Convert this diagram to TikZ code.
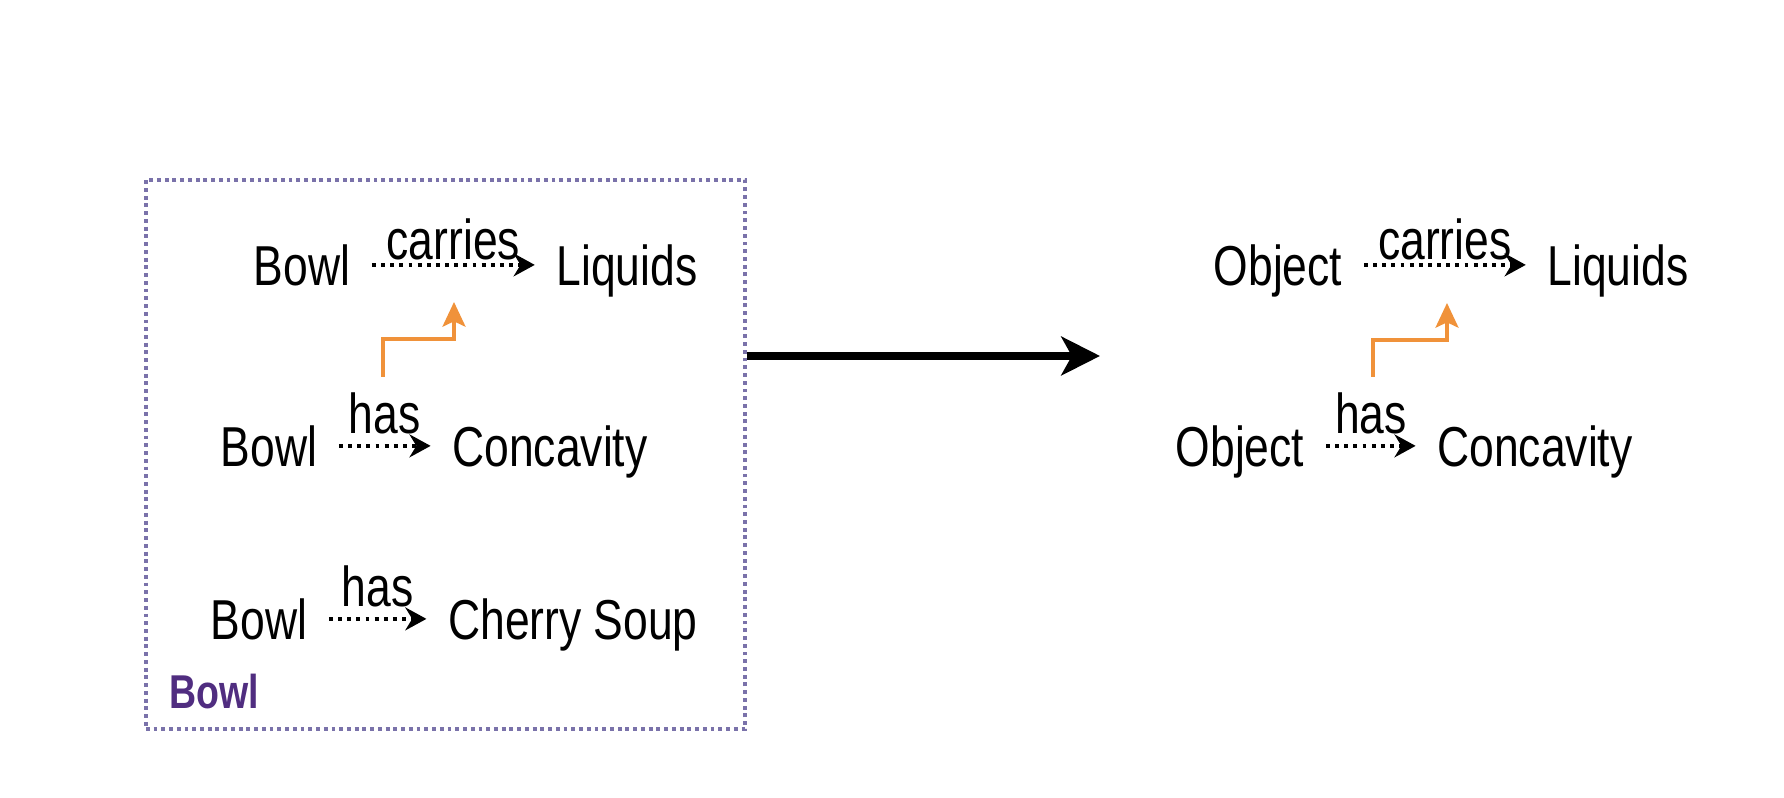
\documentclass[tikz,border=0pt]{standalone}
\usepackage{fontspec}
\setmainfont{Liberation Sans}[FakeStretch=0.79]
\usetikzlibrary{arrows.meta}
\definecolor{liftorange}{RGB}{240,146,58}
\definecolor{framepurple}{RGB}{122,114,170}
\definecolor{titlepurple}{RGB}{80,45,128}
\tikzstyle{concept}=[anchor=base,inner xsep=6pt,inner ysep=0pt,text height=12.5pt,text depth=0.5pt,font=\fontsize{16}{19}\selectfont]
\tikzstyle{relation}=[anchor=base,inner sep=0pt,font=\fontsize{16}{19}\selectfont]
\tikzstyle{relationedge}=[draw,line width=1.2pt,dash pattern=on 1.1pt off 1.5pt,-{Stealth[length=6pt,width=6.5pt]}]
\tikzstyle{liftedge}=[draw,liftorange,line width=1.1pt,-{Stealth[length=7pt,width=6.5pt,inset=1.5pt]}]
\tikzstyle{mapedge}=[draw,line width=2.2pt,-{Stealth[length=11pt,width=11pt,inset=3pt]}]
\tikzstyle{boxframe}=[draw=framepurple,line width=1.1pt,dash pattern=on 1.1pt off 1.1pt,minimum width=5.99cm,minimum height=5.49cm,inner sep=0pt]
\tikzstyle{boxtitle}=[anchor=base,inner sep=0pt,text=titlepurple,font=\fontsize{13.5}{16}\selectfont\bfseries]
\begin{document}
\begin{tikzpicture}[x=0.01cm,y=-0.01cm]
    \useasboundingbox (0,0) rectangle (1784,798);

    % the instance box on the left
    \node[boxframe] (bowlbox) at (445.5,454.5) {};
    \node[boxtitle] (bowltitle) at (214,709) {Bowl};

    \foreach \pos/ \name/ \text in {{(302,286)/b1/Bowl},{(627,286)/l1/Liquids},
        {(269,467)/b2/Bowl},{(550,467)/c2/Concavity},
        {(259,640)/b3/Bowl},{(573,640)/s3/Cherry Soup}}
        \node[concept] (\name) at \pos {\text};

    % generalised facts on the right
    \foreach \pos/ \name/ \text in {{(1278,286)/o1/Object},{(1618,286)/m1/Liquids},
        {(1240,467)/o2/Object},{(1535,467)/k2/Concavity}}
        \node[concept] (\name) at \pos {\text};

    % Connect concepts with relations
    \foreach \source/ \dest/\weight in {b1/l1/{carries}, o1/m1/{carries}}
        \path[relationedge] (\source) -- node[relation,yshift=1.5pt] {\weight} (\dest);
    \foreach \source/ \dest/\weight in {b2/c2/{has}, b3/s3/{has}, o2/k2/{has}}
        \path[relationedge] (\source) -- node[relation,yshift=3.5pt] {\weight} (\dest);

    % orange arrows from has to carries
    \coordinate (liftas) at (383,377);
    \coordinate (liftab) at (454,339);
    \coordinate (liftae) at (454,302);
    \path[liftedge] (liftas) |- (liftab) -- (liftae);
    \coordinate (liftbs) at (1373,377);
    \coordinate (liftbb) at (1447,340);
    \coordinate (liftbe) at (1447,303);
    \path[liftedge] (liftbs) |- (liftbb) -- (liftbe);

    % big arrow
    \coordinate (maptarget) at (1100,356);
    \path[mapedge] (bowlbox.east |- maptarget) -- (maptarget);

\end{tikzpicture}
\end{document}
